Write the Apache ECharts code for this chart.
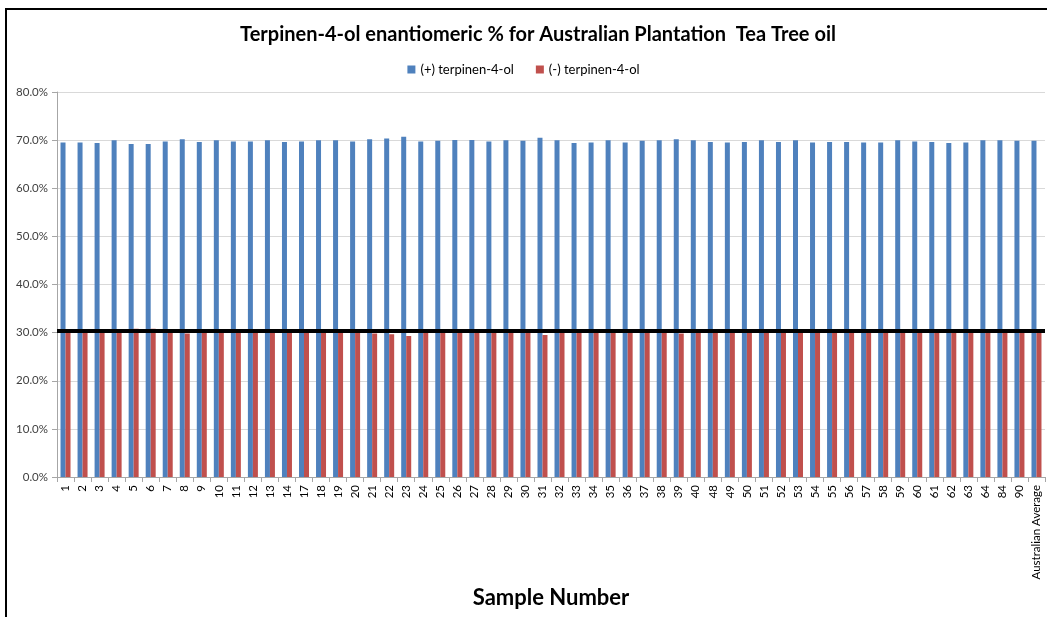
<!DOCTYPE html>
<html><head><meta charset="utf-8">
<script src="https://cdn.jsdelivr.net/npm/echarts@6/dist/echarts.min.js"></script>
<style>html,body{margin:0;padding:0;background:#fff}#c{width:1047px;height:617px}</style>
</head><body><div id="c"></div>
<script>
const categories = ['1','2','3','4','5','6','7','8','9','10','11','12','13','14','17','18','19','20','21','22','23','24','25','26','27','28','29','30','31','32','33','34','35','36','37','38','39','40','48','49','50','51','52','53','54','55','56','57','58','59','60','61','62','63','64','84','90','Australian Average'];
const plusValues = [69.5,69.5,69.4,70.0,69.2,69.2,69.7,70.2,69.6,70.0,69.7,69.7,70.0,69.6,69.7,70.0,70.0,69.7,70.2,70.35,70.7,69.7,69.85,70.05,70.05,69.7,70.0,69.85,70.5,70.0,69.4,69.5,70.0,69.5,69.85,70.0,70.2,70.0,69.6,69.5,69.6,70.0,69.6,70.0,69.5,69.6,69.6,69.5,69.5,70.0,69.7,69.6,69.4,69.5,70.0,70.0,69.85,69.85];
const minusValues = [30.5,30.5,30.6,30.0,30.8,30.8,30.3,29.8,30.4,30.0,30.3,30.3,30.0,30.4,30.3,30.0,30.0,30.3,29.8,29.65,29.3,30.3,30.15,29.95,29.95,30.3,30.0,30.15,29.5,30.0,30.6,30.5,30.0,30.5,30.15,30.0,29.8,30.0,30.4,30.5,30.4,30.0,30.4,30.0,30.5,30.4,30.4,30.5,30.5,30.0,30.3,30.4,30.6,30.5,30.0,30.0,30.15,30.15];
const yTicks = [0,10,20,30,40,50,60,70,80];
const referenceLevel = 30.3;

const chart = echarts.init(document.getElementById('c'));
const font = 'Lato, "Open Sans", sans-serif';
chart.setOption({
  animation: false,
  backgroundColor: '#fff',
  title: {
    text: 'Terpinen-4-ol enantiomeric % for Australian Plantation  Tea Tree oil',
    left: 533, top: 20, textAlign: 'center',
    textStyle: {fontFamily: font, fontWeight: 'bold', fontSize: 20, color: '#000'}
  },
  legend: {
    top: 58, left: 'center', itemWidth: 8, itemHeight: 8, itemGap: 22,
    icon: 'rect',
    textStyle: {fontFamily: font, fontSize: 13, color: '#000'},
    data: ['(+) terpinen-4-ol', '(-) terpinen-4-ol']
  },
  grid: {left: 57, right: 2, top: 92, bottom: 140, containLabel: false},
  xAxis: {
    type: 'category', data: categories,
    name: 'Sample Number', nameLocation: 'middle', nameGap: 106,
    nameTextStyle: {fontFamily: font, fontWeight: 'bold', fontSize: 22, color: '#000'},
    axisLine: {lineStyle: {color: '#a6a6a6'}},
    axisTick: {show: true, length: 5, lineStyle: {color: '#a6a6a6'}},
    axisLabel: {rotate: 90, interval: 0, fontFamily: font, fontSize: 11.5, color: '#000', margin: 8}
  },
  yAxis: {
    type: 'value', min: 0, max: 80, interval: 10,
    axisLine: {show: true, lineStyle: {color: '#a6a6a6'}},
    axisTick: {show: true, length: 5, lineStyle: {color: '#a6a6a6'}},
    splitLine: {lineStyle: {color: '#d9d9d9'}},
    axisLabel: {fontFamily: font, fontSize: 11.5, color: '#404040', margin: 9,
      formatter: v => yTicks.includes(v) ? v.toFixed(1) + '%' : ''}
  },
  series: [
    {name: '(+) terpinen-4-ol', type: 'bar', data: plusValues, barWidth: 5, barGap: '0%',
      itemStyle: {color: '#4f81bd'},
      markLine: {silent: true, symbol: 'none', label: {show: false},
        lineStyle: {color: '#000', width: 4, type: 'solid'},
        data: [{yAxis: referenceLevel}]}},
    {name: '(-) terpinen-4-ol', type: 'bar', data: minusValues, barWidth: 5, barGap: '0%',
      itemStyle: {color: '#c0504d'}}
  ],
  graphic: [
    {type: 'rect', shape: {x: 6, y: 9, width: 1200, height: 800},
      style: {fill: 'none', stroke: '#000', lineWidth: 2}, z: 100}
  ]
});
</script></body></html>
